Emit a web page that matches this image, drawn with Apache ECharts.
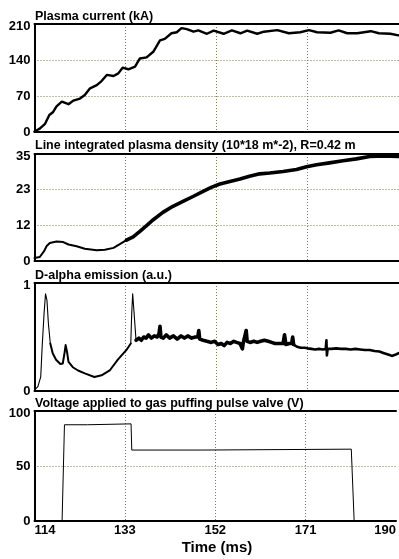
<!DOCTYPE html>
<html>
<head>
<meta charset="utf-8">
<script src="https://cdn.jsdelivr.net/npm/echarts@6/dist/echarts.min.js"></script>
<style>
  html, body { margin: 0; padding: 0; background: #fff; }
  #chart { width: 399px; height: 559px; }
</style>
</head>
<body>
<div id="chart"></div>
<script>
// Shared time axis (ms)
const timeTicks = [114, 133, 152, 171, 190];

// Panel titles
const panelTitles = [
  'Plasma current (kA)',
  'Line integrated plasma density (10*18 m*-2), R=0.42 m',
  'D-alpha emission (a.u.)',
  'Voltage applied to gas puffing pulse valve (V)'
];
const timeLabel = 'Time (ms)';

// Y tick values of each panel
const currentTicks = [0, 70, 140, 210];
const densityTicks = [0, 35 / 3, 70 / 3, 35];
const dalphaTicks = [0, 1];
const valveTicks = [0, 50, 100];

// Plasma current (kA)
const currentT = [114, 115.1, 116.2, 117.1, 117.9, 118.6, 119.7, 121.1, 122.1, 123.5, 124.5, 125.6, 127.0, 128.0, 129.1, 130.5, 131.5, 132.4, 133.6, 135.0, 136.0, 137.4, 138.8, 140.2, 141.2, 142.6, 143.7, 144.7, 145.8, 147.2, 148.2, 150.0, 151.4, 153.5, 155.2, 157.0, 158.4, 160.5, 161.9, 164.7, 167.1, 169.5, 171.3, 173.0, 175.8, 177.5, 179.3, 181.4, 184.2, 185.9, 188.3, 190];
const currentKA = [1, 6.6, 16, 33, 39, 50, 59, 54, 61, 65, 72, 85, 91, 99, 111, 109, 114, 125, 122, 127, 143, 145, 156, 178, 181, 192, 194, 202, 200, 195, 197.5, 191, 197, 191, 197.5, 192, 197, 191, 195, 198, 192, 194, 198, 194, 193, 197.5, 192, 192, 196, 192, 191, 188];

// Line integrated density (10^18 m^-2)
const densityT = [114, 115.1, 116.0, 116.5, 117.2, 118.6, 120.0, 121.1, 122.8, 124.5, 127.0, 128.7, 130.5, 131.9, 133.2, 134.6, 136.0, 137.4, 138.8, 140.8, 142.9, 145.0, 147.1, 149.2, 150.9, 152.7, 154.8, 156.9, 158.9, 161.0, 163.1, 165.9, 168.7, 170.8, 172.9, 175.6, 178.4, 181.2, 184.0, 186.8, 190];
const densityV = [1.0, 1.3, 3.2, 4.8, 5.9, 6.4, 6.2, 5.4, 4.8, 4.0, 3.5, 3.7, 4.3, 5.6, 6.8, 7.9, 9.7, 11.6, 13.5, 15.9, 17.9, 19.5, 21.1, 22.8, 24.1, 25.2, 26.0, 26.8, 27.7, 28.5, 28.8, 29.3, 29.9, 30.8, 31.5, 32.1, 32.8, 33.4, 34.2, 34.4, 34.2];

// D-alpha emission (a.u.)
const dalphaT = [114, 114.7, 115.3, 115.6, 116.0, 116.3, 116.6, 116.9, 117.3, 117.8, 118.5, 119.4, 119.9, 120.3, 120.5, 120.8, 121.1, 122.0, 123.1, 124.5, 126.5, 128.0, 129.7, 131.4, 133.2, 134.1, 134.3, 134.5, 134.9, 135.2,
  135.8, 136.3, 136.8, 137.3, 137.8, 138.4, 139.0, 139.6, 140.0, 140.2, 140.4, 140.9, 141.5, 142.2, 143.0, 143.8, 144.6, 145.3, 146.0, 146.8, 147.6, 148.1, 148.3, 148.5, 149.2, 150.0, 150.9, 151.6, 152.3, 153.0, 153.6, 154.2, 154.9, 155.6, 156.2, 156.9, 157.2, 157.4, 157.6, 158.0, 158.2, 158.4, 159.0, 159.8, 160.5, 161.2, 162.0, 162.8, 163.5, 164.2, 165.0, 165.9, 166.2, 166.5, 167.2, 167.7, 167.9, 168.1, 168.8, 169.6, 170.4, 171.0, 171.8, 172.6, 173.4, 174.2, 174.8, 174.95, 175.05, 175.2, 176.0, 177.0, 178.0, 179.0, 180.0, 181.0, 182.0, 183.0, 184.0, 185.0, 186.0, 187.0, 188.0, 188.6, 189.3, 190];
const dalphaV = [0.01, 0.04, 0.13, 0.41, 0.72, 0.90, 0.84, 0.625, 0.44, 0.35, 0.29, 0.25, 0.255, 0.36, 0.425, 0.36, 0.27, 0.22, 0.19, 0.163, 0.13, 0.145, 0.19, 0.29, 0.38, 0.44, 0.72, 0.90, 0.655, 0.47,
  0.49, 0.47, 0.50, 0.49, 0.52, 0.49, 0.51, 0.50, 0.53, 0.60, 0.50, 0.49, 0.52, 0.49, 0.51, 0.48, 0.51, 0.49, 0.51, 0.49, 0.50, 0.50, 0.56, 0.48, 0.47, 0.46, 0.45, 0.46, 0.43, 0.44, 0.42, 0.45, 0.44, 0.46, 0.45, 0.44, 0.45, 0.39, 0.45, 0.46, 0.56, 0.46, 0.45, 0.46, 0.45, 0.46, 0.47, 0.46, 0.45, 0.44, 0.44, 0.44, 0.52, 0.43, 0.44, 0.44, 0.50, 0.43, 0.41, 0.40, 0.40, 0.395, 0.39, 0.385, 0.39, 0.385, 0.39, 0.47, 0.33, 0.39, 0.39, 0.395, 0.39, 0.39, 0.385, 0.39, 0.385, 0.38, 0.38, 0.37, 0.365, 0.35, 0.335, 0.325, 0.335, 0.35];

// Gas puffing valve voltage (V)
const valveT = [114, 119.8, 120.3, 125.1, 125.2, 134.3, 134.45, 149.2, 149.3, 180.6, 181.2, 190];
const valveV = [0, 0, 87.5, 87.5, 88.3, 88.3, 64.5, 64.5, 65.3, 65.3, 0, 0];

// ---------------------------------------------------------------------------
const FONT = '"Liberation Sans", Arial, Helvetica, sans-serif';
const GRID_COLOR = '#7c7c40';
const FRAME = { color: '#000', width: 2 };
const panels = [
  { top: 24, height: 108 },
  { top: 154, height: 107 },
  { top: 283, height: 108 },
  { top: 411, height: 110 }
];
const titleY = [16.5, 145.5, 276, 403.7];

function pairs(ts, vs, from, to) {
  const out = [];
  for (let i = 0; i < ts.length; i++) {
    if (ts[i] >= from && ts[i] <= to) out.push([ts[i], vs[i]]);
  }
  return out;
}

const xMin = timeTicks[0];
const xMax = timeTicks[timeTicks.length - 1];
const xStep = timeTicks[1] - timeTicks[0];

const grids = panels.map(p => ({
  left: 34.5, width: 364, top: p.top, height: p.height, show: false, containLabel: false
}));

const dotted = { color: GRID_COLOR, width: 1, type: [1, 2] };

// Bottom time axes (frame bottom, vertical grid lines, labels on the last panel)
const xAxes = panels.map((p, i) => ({
  type: 'value', gridIndex: i, position: 'bottom', min: xMin, max: xMax, interval: xStep,
  axisLine: { show: true, onZero: false, lineStyle: FRAME }, axisTick: { show: false },
  splitLine: { show: true, lineStyle: dotted, showMinLine: false, showMaxLine: false },
  axisLabel: {
    show: i === 3, margin: 3, color: '#000', fontFamily: FONT, fontWeight: 'bold', fontSize: 13,
    alignMinLabel: 'left', alignMaxLabel: 'right'
  }
}));
// Top edge of each panel frame
panels.forEach((p, i) => {
  xAxes.push({
    type: 'value', gridIndex: i, position: 'top', min: xMin, max: xMax, interval: xStep,
    axisLine: { show: true, onZero: false, lineStyle: FRAME },
    axisTick: { show: false }, axisLabel: { show: false }, splitLine: { show: false }
  });
});

function yAxis(i, ticks, opts) {
  const top = ticks[ticks.length - 1];
  return Object.assign({
    type: 'value', gridIndex: i,
    min: ticks[0], max: top, interval: ticks[1] - ticks[0],
    axisLine: { show: true, onZero: false, lineStyle: FRAME }, axisTick: { show: false },
    splitLine: { show: true, lineStyle: dotted, showMinLine: false, showMaxLine: false },
    axisLabel: {
      margin: 4, color: '#000', fontFamily: FONT, fontWeight: 'bold', fontSize: 13,
      formatter: v => Math.abs(v - top) < 1e-6 ? '{hi|' + Math.round(v) + '}' : String(Math.round(v)),
      rich: { hi: { fontFamily: FONT, fontWeight: 'bold', fontSize: 13, color: '#000', padding: [5, 0, 0, 0] } }
    }
  }, opts || {});
}

const yAxes = [
  yAxis(0, currentTicks),
  yAxis(1, densityTicks),
  yAxis(2, dalphaTicks, { splitLine: { show: false } }),
  yAxis(3, valveTicks)
];

function line(i, data, width) {
  return {
    type: 'line', xAxisIndex: i, yAxisIndex: i, data: data,
    showSymbol: false, symbol: 'none', silent: true, animation: false,
    lineStyle: { color: '#000', width: width, join: 'round', cap: 'round' },
    clip: true, z: 3
  };
}

const series = [
  line(0, pairs(currentT, currentKA, 114, 190), 2.4),
  line(1, pairs(densityT, densityV, 114, 133.2), 2),
  line(1, pairs(densityT, densityV, 133.2, 190), 3.6),
  line(2, pairs(dalphaT, dalphaV, 114, 117.3), 1.1),
  line(2, pairs(dalphaT, dalphaV, 117.3, 134.1), 2),
  line(2, pairs(dalphaT, dalphaV, 134.1, 135.2), 1.1),
  line(2, pairs(dalphaT, dalphaV, 135.2, 168.1), 3.6),
  line(2, pairs(dalphaT, dalphaV, 168.1, 190), 2.6),
  line(3, pairs(valveT, valveV, 114, 190), 1)
];

const graphics = panelTitles.map((t, i) => ({
  type: 'text', x: 35, y: titleY[i], z: 10, silent: true,
  style: { text: t, font: 'bold 12.5px ' + FONT, fill: '#000', align: 'left', verticalAlign: 'middle' }
}));
graphics.push({
  type: 'text', x: 217, y: 548, z: 10, silent: true,
  style: { text: timeLabel, font: 'bold 15px ' + FONT, fill: '#000', align: 'center', verticalAlign: 'middle' }
});

const chart = echarts.init(document.getElementById('chart'), null, { renderer: 'canvas' });
chart.setOption({
  animation: false,
  backgroundColor: '#fff',
  grid: grids,
  xAxis: xAxes,
  yAxis: yAxes,
  series: series,
  graphic: graphics
});
</script>
</body>
</html>
